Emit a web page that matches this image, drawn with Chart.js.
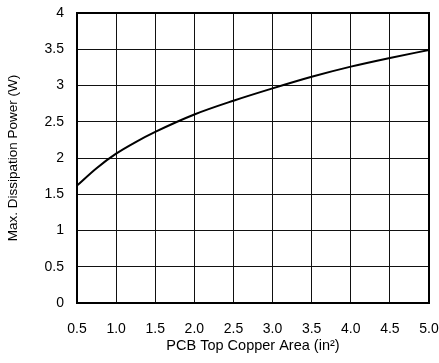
<!DOCTYPE html>
<html>
<head>
<meta charset="utf-8">
<script src="https://cdn.jsdelivr.net/npm/chart.js@4/dist/chart.umd.min.js"></script>
<style>
  html, body { margin: 0; padding: 0; background: #fff; }
  #wrap { width: 439px; height: 363px; }
</style>
</head>
<body>
<div id="wrap"><canvas id="chart" width="439" height="363"></canvas></div>
<script>
// PCB top copper area (in^2) vs max dissipation power (W)
const area = [0.5, 0.75, 1.0, 1.25, 1.5, 2.0, 2.5, 3.0, 3.5, 4.0, 4.5, 5.0]
const power = [1.62, 1.86, 2.06, 2.22, 2.36, 2.6, 2.79, 2.96, 3.12, 3.26, 3.38, 3.49]

const xTitle = 'PCB Top Copper Area (in\u00b2)'
const yTitle = 'Max. Dissipation Power (W)'

const family = '"Liberation Sans", Arial, sans-serif'

// box around the plot area
const frame = {
  id: 'frame',
  afterDraw(chart) {
    const { ctx, chartArea: a } = chart
    ctx.save()
    ctx.strokeStyle = '#000'
    ctx.lineWidth = 2
    ctx.strokeRect(a.left, a.top, a.right - a.left, a.bottom - a.top)
    ctx.restore()
  }
}

const ctx = document.getElementById('chart').getContext('2d')
new Chart(ctx, {
  type: 'line',
  data: {
    datasets: [
      {
        data: area.map((x, i) => ({ x: x, y: power[i] })),
        borderColor: '#000',
        borderWidth: 2,
        pointRadius: 0,
        fill: false,
        cubicInterpolationMode: 'monotone'
      }
    ]
  },
  options: {
    responsive: false,
    animation: false,
    layout: { padding: { top: 13, right: 10, left: 0, bottom: 0 } },
    plugins: { legend: { display: false }, tooltip: { enabled: false } },
    scales: {
      x: {
        type: 'linear',
        min: 0.5,
        max: 5,
        afterFit: s => {
          s.height = 60
          s.paddingLeft = 0
          s.paddingRight = 0
        },
        ticks: {
          stepSize: 0.5,
          color: '#000',
          font: { family: family, size: 14 },
          padding: 18,
          maxRotation: 0,
          callback: v => v.toFixed(1)
        },
        grid: { color: '#111', lineWidth: 1, drawTicks: false },
        border: { display: false },
        title: { display: true, text: xTitle, color: '#000', font: { family: family, size: 14.5 }, padding: { top: 0, bottom: 8 } }
      },
      y: {
        min: 0,
        max: 4,
        afterFit: s => {
          s.width = 77
          s.paddingTop = 0
          s.paddingBottom = 0
        },
        ticks: {
          stepSize: 0.5,
          color: '#000',
          font: { family: family, size: 14 },
          padding: 13,
          callback: v => String(v)
        },
        grid: { color: '#111', lineWidth: 1, drawTicks: false },
        border: { display: false },
        title: { display: true, text: yTitle, color: '#000', font: { family: family, size: 13.5 }, padding: { top: 5, bottom: 0 } }
      }
    }
  },
  plugins: [frame]
})
</script>
</body>
</html>
